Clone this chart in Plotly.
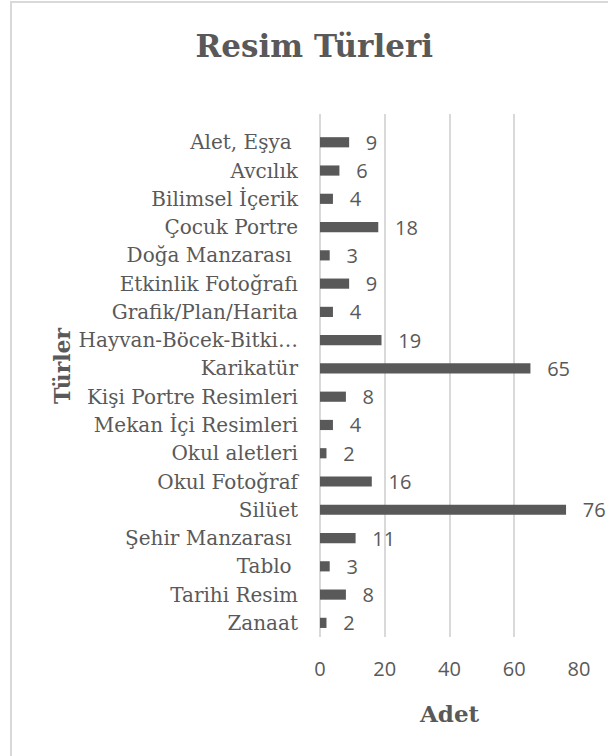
import plotly.graph_objects as go

# kategoriler (sondaki boşluklar orijinal etiketlerde var)
turler = [
    "Alet, Eşya\u00a0", "Avcılık", "Bilimsel İçerik", "Çocuk Portre",
    "Doğa Manzarası\u00a0", "Etkinlik Fotoğrafı", "Grafik/Plan/Harita",
    "Hayvan-Böcek-Bitki…", "Karikatür", "Kişi Portre Resimleri",
    "Mekan İçi Resimleri", "Okul aletleri", "Okul Fotoğraf", "Silüet",
    "Şehir Manzarası\u00a0", "Tablo\u00a0", "Tarihi Resim", "Zanaat",
]
adet = [9, 6, 4, 18, 3, 9, 4, 19, 65, 8, 4, 2, 16, 76, 11, 3, 8, 2]
x_ticks = [0, 20, 40, 60, 80]

gray = "#595959"
grid = "#d9d9d9"
serif = "DejaVu Serif"
sans = "Open Sans"

bar = go.Bar(
    x=adet, y=turler, orientation="h",
    marker=dict(color=gray, line=dict(width=0)),
    texttemplate="\u00a0\u00a0\u2009%{x}", textposition="outside",
    textfont=dict(family=sans, size=20, color=gray),
    constraintext="none", cliponaxis=False,
    hoverinfo="x+y",
)

fig = go.Figure(data=[bar])
fig.update_layout(
    width=608, height=756,
    margin=dict(l=320, r=29, t=114, b=119),
    plot_bgcolor="white", paper_bgcolor="white",
    bargap=0.64, showlegend=False,
    title=dict(text="<b>Resim Türleri</b>", x=0.517, xanchor="center",
               y=1 - 46 / 756, yanchor="middle",
               font=dict(family=serif, size=31, color=gray)),
    xaxis=dict(range=[0, 80], tickvals=x_ticks, showgrid=True, gridcolor=grid,
               gridwidth=1.5, zeroline=True, zerolinecolor=grid, zerolinewidth=1.5,
               showline=False, ticks="", ticklabelstandoff=18,
               tickfont=dict(family=sans, size=20, color=gray), fixedrange=True),
    yaxis=dict(type="category", range=[17.5, -1], showgrid=False, showline=False,
               zeroline=False, ticks="", ticklabelstandoff=21,
               tickfont=dict(family=serif, size=20, color=gray), fixedrange=True),
    shapes=[dict(type="rect", xref="paper", yref="paper",
                 x0=(11 - 320) / 259, x1=1.5, y0=-0.5, y1=(637 - 2) / 523,
                 line=dict(color=grid, width=2), layer="below")],
    annotations=[
        dict(text="<b>Türler</b>", textangle=-90, xref="paper", yref="paper",
             x=(62 - 320) / 259, y=(637 - 366) / 523, xanchor="center", yanchor="middle",
             showarrow=False, font=dict(family=serif, size=22, color=gray)),
        dict(text="<b>Adet</b>", xref="paper", yref="paper",
             x=0.5, y=(637 - 713) / 523, xanchor="center", yanchor="middle",
             showarrow=False, font=dict(family=serif, size=23, color=gray)),
    ],
)

# sayfanın varsayılan 8px kenar boşluğunu kaldır
fig.write_html("out.html", config={"displayModeBar": False},
               post_script="document.body.style.margin='0';")
